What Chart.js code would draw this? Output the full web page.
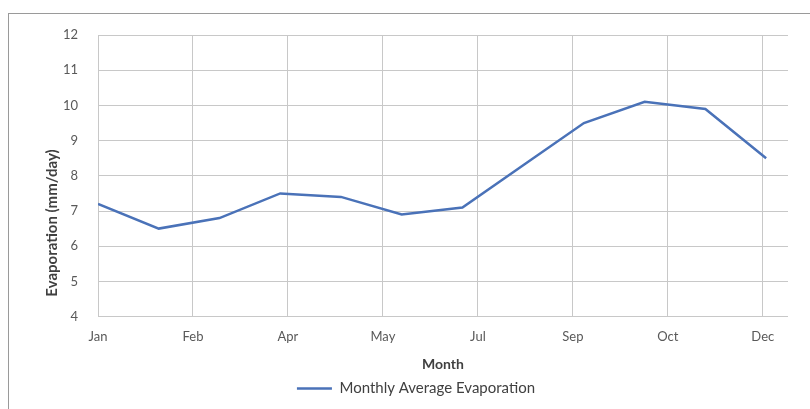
<!DOCTYPE html>
<html>
<head>
<meta charset="utf-8">
<script src="https://cdn.jsdelivr.net/npm/chart.js@4.4.0/dist/chart.umd.min.js"></script>
<style>
  html, body { margin: 0; padding: 0; background: #fff; }
  #wrap { position: relative; width: 810px; height: 409px; overflow: hidden; }
  #frame { position: absolute; left: 8px; top: 13px; width: 900px; height: 500px; border-left: 1px solid #9a9a9a; border-top: 1px solid #9a9a9a; }
  canvas { position: absolute; left: 0; top: 0; }
</style>
</head>
<body>
<div id="wrap">
  <div id="frame"></div>
  <canvas id="evapChart" width="810" height="409"></canvas>
</div>
<script>
// valores
const months = ['Jan', 'Feb', 'Mar', 'Apr', 'May', 'Jun', 'Jul', 'Aug', 'Sep', 'Oct', 'Nov', 'Dec'];
const evaporation = [7.2, 6.5, 6.8, 7.5, 7.4, 6.9, 7.1, 8.3, 9.5, 10.1, 9.9, 8.5];
const xTickLabels = ['Jan', 'Feb', 'Apr', 'May', 'Jul', 'Sep', 'Oct', 'Dec'];
const xTickStep = 1.5636; // eixo de datas do Excel: rótulos a cada ~1,56 mês
const yTicks = [4, 5, 6, 7, 8, 9, 10, 11, 12];

const FONT = 'Lato, "Open Sans", sans-serif';

// título do eixo Y desenhado à parte (no original fica abaixo do centro)
const yTitlePlugin = {
  id: 'yTitle',
  afterDraw(chart) {
    const ctx = chart.ctx;
    ctx.save();
    ctx.translate(52, 223);
    ctx.rotate(-Math.PI / 2);
    ctx.font = 'bold 15px ' + FONT;
    ctx.fillStyle = '#404040';
    ctx.textAlign = 'center';
    ctx.textBaseline = 'middle';
    ctx.fillText('Evaporation (mm/day)', 0, 0);
    ctx.restore();
  }
};

const ctx = document.getElementById('evapChart').getContext('2d');
new Chart(ctx, {
  type: 'line',
  data: {
    datasets: [{
      label: 'Monthly Average Evaporation',
      data: evaporation.map((v, i) => ({ x: i, y: v })),
      borderColor: '#4a72b8',
      backgroundColor: '#4a72b8',
      borderWidth: 2.5,
      pointRadius: 0,
      tension: 0
    }]
  },
  options: {
    responsive: false,
    animation: false,
    layout: { padding: { left: 44, right: 22, top: 35, bottom: 3 } },
    plugins: {
      legend: {
        position: 'bottom',
        labels: {
          color: '#404040',
          font: { family: FONT, size: 15 },
          usePointStyle: true,
          pointStyle: 'line',
          pointStyleWidth: 35,
          padding: 8
        }
      },
      tooltip: { enabled: false }
    },
    scales: {
      x: {
        type: 'linear',
        min: 0,
        max: 11.36,
        afterBuildTicks: (axis) => {
          axis.ticks = xTickLabels.map((_, i) => ({ value: i * xTickStep }));
        },
        ticks: {
          color: '#595959',
          font: { family: FONT, size: 13 },
          padding: 12,
          maxRotation: 0,
          autoSkip: false,
          callback: (value, index) => xTickLabels[index]
        },
        grid: { color: '#c8c8c8', drawTicks: false },
        border: { display: false },
        title: {
          display: true,
          text: 'Month',
          color: '#404040',
          font: { family: FONT, size: 14, weight: 'bold' },
          padding: { top: 0, bottom: 0 }
        }
      },
      y: {
        min: 4,
        max: 12,
        afterBuildTicks: (axis) => {
          axis.ticks = yTicks.map(v => ({ value: v }));
        },
        afterFit: (axis) => { axis.width = 54; },
        ticks: {
          color: '#595959',
          font: { family: FONT, size: 13 },
          padding: 20
        },
        grid: { color: '#c8c8c8', drawTicks: false },
        border: { display: false }
      }
    }
  },
  plugins: [yTitlePlugin]
});
</script>
</body>
</html>
